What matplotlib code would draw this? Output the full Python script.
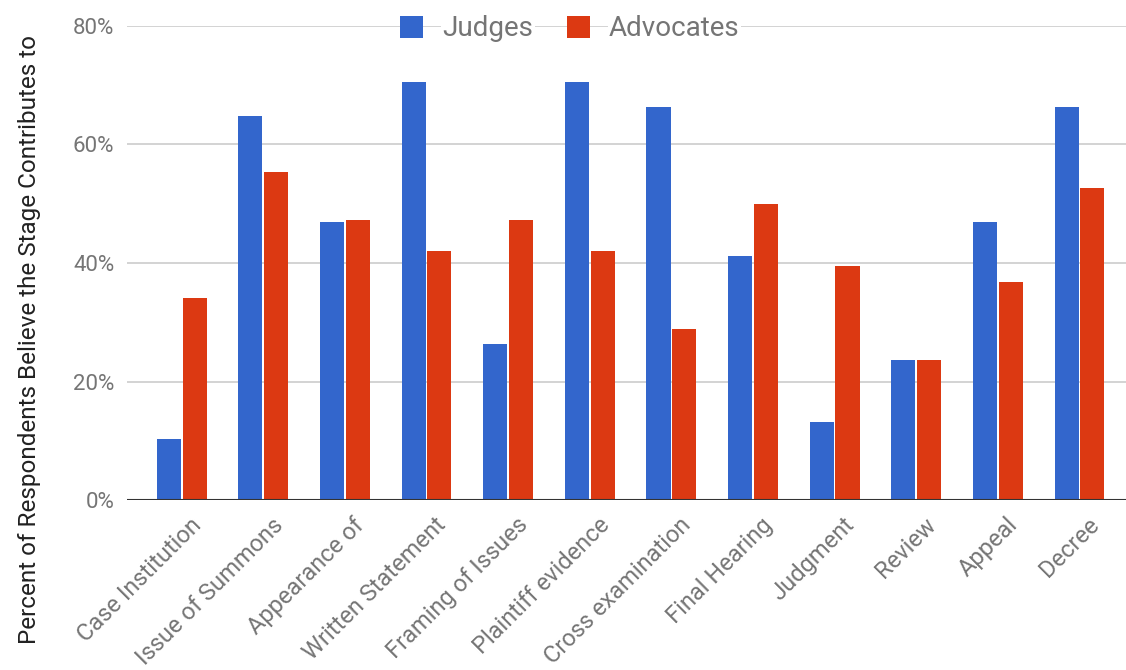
import matplotlib.pyplot as plt
import matplotlib.transforms as mtransforms
import numpy as np

plt.rcParams['font.family'] = ['Roboto', 'DejaVu Sans']

stages = ['Case Institution', 'Issue of Summons', 'Appearance of', 'Written Statement',
          'Framing of Issues', 'Plaintiff evidence', 'Cross examination', 'Final Hearing',
          'Judgment', 'Review', 'Appeal', 'Decree']
judges = [10.3, 64.8, 47.0, 70.6, 26.3, 70.6, 66.3, 41.2, 13.1, 23.6, 47.0, 66.3]
advocates = [34.1, 55.4, 47.3, 42.1, 47.3, 42.1, 28.9, 50.0, 39.5, 23.6, 36.8, 52.7]

blue = '#3366CC'
red = '#DC3912'
grey = '#757575'

fig = plt.figure(figsize=(11.26, 6.7), dpi=100)
ax = fig.add_axes([127 / 1126, 1 - 500 / 670, 1 - 127 / 1126, (500 - 26) / 670])

x = np.arange(len(stages))
w = 0.295
ax.bar(x - w / 2 - 0.01, judges, w, color=blue, label='Judges', zorder=3)
ax.bar(x + w / 2 + 0.01, advocates, w, color=red, label='Advocates', zorder=3)

ax.set_ylim(0, 80)
ax.set_xlim(-0.67, 11.57)
ax.set_yticks([0, 20, 40, 60, 80])
ax.set_yticklabels(['0%', '20%', '40%', '60%', '80%'])
ax.grid(axis='y', color='#cccccc', linewidth=1.2, zorder=0)
ax.axhline(0, color='#333333', linewidth=1.5, zorder=4)
for s in ax.spines.values():
    s.set_visible(False)
ax.tick_params(axis='y', length=0, labelsize=16, colors=grey, pad=9)
ax.tick_params(axis='x', length=0, labelsize=17, colors=grey, pad=4)
ax.set_xticks(x)
ax.set_xticklabels(stages, rotation=45, ha='right', rotation_mode='anchor')
shift = mtransforms.ScaledTranslation(0.08, -0.08, fig.dpi_scale_trans)
for lbl in ax.get_xticklabels():
    lbl.set_transform(lbl.get_transform() + shift)

fig.text(30 / 1126, 1 - 340 / 670, 'Percent of Respondents Believe the Stage Contributes to',
         rotation=90, ha='center', va='center', fontsize=17.5, color='#222222')

leg = ax.legend(loc='center', bbox_to_anchor=(570 / 1126, 1 - 29 / 670),
                bbox_transform=fig.transFigure, ncol=2, frameon=False, fontsize=20,
                handlelength=0.83, handleheight=0.83, handletextpad=0.68, columnspacing=1.22,
                borderpad=0.2, labelcolor=grey)
for t in leg.get_texts():
    t.set_bbox(dict(facecolor='white', edgecolor='none', pad=1))

fig.savefig('out.png', dpi=100, facecolor='white')
